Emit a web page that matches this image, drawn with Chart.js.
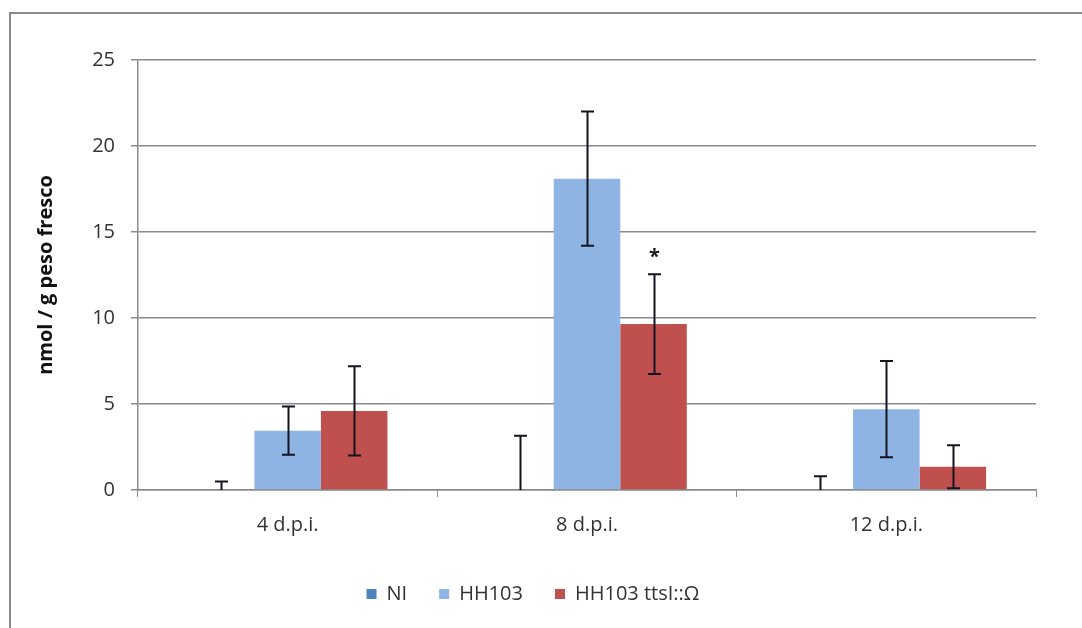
<!DOCTYPE html>
<html>
<head>
<meta charset="utf-8">
<script src="https://cdn.jsdelivr.net/npm/chart.js@4"></script>
<style>
  html, body { margin: 0; padding: 0; background: #fff; overflow: hidden; }
  #wrap { position: relative; width: 1082px; height: 628px; }
  #frame { position: absolute; left: 9px; top: 12px; width: 1200px; height: 800px;
           border-left: 2px solid #8a8a8a; border-top: 2px solid #8a8a8a; pointer-events: none; }
  canvas { position: absolute; left: 0; top: 0; }
</style>
</head>
<body>
<div id="wrap">
  <canvas id="chart" width="1082" height="628"></canvas>
  <div id="frame"></div>
</div>
<script>
// Time points (days post inoculation)
const categories = ['4 d.p.i.', '8 d.p.i.', '12 d.p.i.'];

// Mean content, nmol / g fresh weight
const niValues      = [0, 0, 0];
const hh103Values   = [3.45, 18.1, 4.7];
const mutantValues  = [4.6, 9.65, 1.35];

// Standard errors
const niErrors      = [0.5, 3.15, 0.8];
const hh103Errors   = [1.4, 3.9, 2.8];
const mutantErrors  = [2.6, 2.9, 1.25];

// Significance marks drawn above the mutant bars
const mutantSignificance = ['', '*', ''];

const yTicks = [0, 5, 10, 15, 20, 25];

const FONT = "'Open Sans', 'Liberation Sans', sans-serif";

// Draws error bars (and significance marks) from each dataset's errors array
const errorBarPlugin = {
  id: 'errorBars',
  afterDatasetsDraw(chart) {
    const ctx = chart.ctx;
    const y = chart.scales.y;
    const area = chart.chartArea;
    ctx.save();
    ctx.beginPath();
    ctx.rect(area.left, area.top - 40, area.right - area.left, area.bottom - area.top + 40);
    ctx.clip();
    chart.data.datasets.forEach((ds, di) => {
      const meta = chart.getDatasetMeta(di);
      meta.data.forEach((bar, i) => {
        const v = ds.data[i], e = ds.errors[i];
        const x = Math.round(bar.x) + 0.5;
        const top = y.getPixelForValue(v + e);
        const bot = y.getPixelForValue(v - e);
        ctx.strokeStyle = '#141420';
        ctx.lineWidth = 2;
        ctx.beginPath();
        ctx.moveTo(x, top); ctx.lineTo(x, bot);
        ctx.moveTo(x - 6.5, top); ctx.lineTo(x + 6.5, top);
        ctx.moveTo(x - 6.5, bot); ctx.lineTo(x + 6.5, bot);
        ctx.stroke();
        if (ds.marks && ds.marks[i]) {
          ctx.fillStyle = '#1a1a1a';
          ctx.font = 'bold 20px ' + FONT;
          ctx.textAlign = 'center';
          ctx.textBaseline = 'alphabetic';
          ctx.fillText(ds.marks[i], x, top - 11);
        }
      });
    });
    ctx.restore();
  }
};

new Chart(document.getElementById('chart'), {
  type: 'bar',
  data: {
    labels: categories,
    datasets: [
      { label: 'NI', data: niValues, errors: niErrors, backgroundColor: '#4F81BD' },
      { label: 'HH103', data: hh103Values, errors: hh103Errors, backgroundColor: '#8EB4E3' },
      { label: 'HH103 ttsI::Ω', data: mutantValues, errors: mutantErrors,
        marks: mutantSignificance, backgroundColor: '#C0504D' }
    ]
  },
  options: {
    responsive: false,
    animation: false,
    devicePixelRatio: 1,
    layout: { padding: { left: 30, right: 46, top: 60, bottom: 14 } },
    datasets: { bar: { categoryPercentage: 3 / 4.5, barPercentage: 1 } },
    plugins: {
      tooltip: { enabled: false },
      legend: {
        position: 'bottom',
        labels: {
          boxWidth: 10, boxHeight: 10, padding: 32,
          color: '#333', font: { family: FONT, size: 20 }
        }
      }
    },
    scales: {
      x: {
        afterFit(s) { s.height = 628 - 490 - s.chart.legend.height - 14; },
        grid: { display: true, drawOnChartArea: false, drawTicks: true, tickLength: 7,
                offset: true, color: '#8a8a8a' },
        border: { display: true, color: '#8a8a8a', width: 1.5 },
        ticks: { color: '#333', font: { family: FONT, size: 20 }, padding: 16 }
      },
      y: {
        min: 0, max: 25,
        afterFit(s) { s.width = 108; },
        afterBuildTicks(s) { s.ticks = yTicks.map(v => ({ value: v })); },
        grid: { color: '#8a8a8a', lineWidth: 1.5, tickLength: 7 },
        border: { display: true, color: '#8a8a8a', width: 1.5 },
        ticks: { color: '#333', font: { family: FONT, size: 20 }, padding: 16 },
        title: {
          display: true, text: 'nmol / g peso fresco', color: '#111',
          font: { family: FONT, size: 20, weight: 'bold' }, padding: { top: 4, bottom: 0 }
        }
      }
    }
  },
  plugins: [errorBarPlugin]
});
</script>
</body>
</html>
